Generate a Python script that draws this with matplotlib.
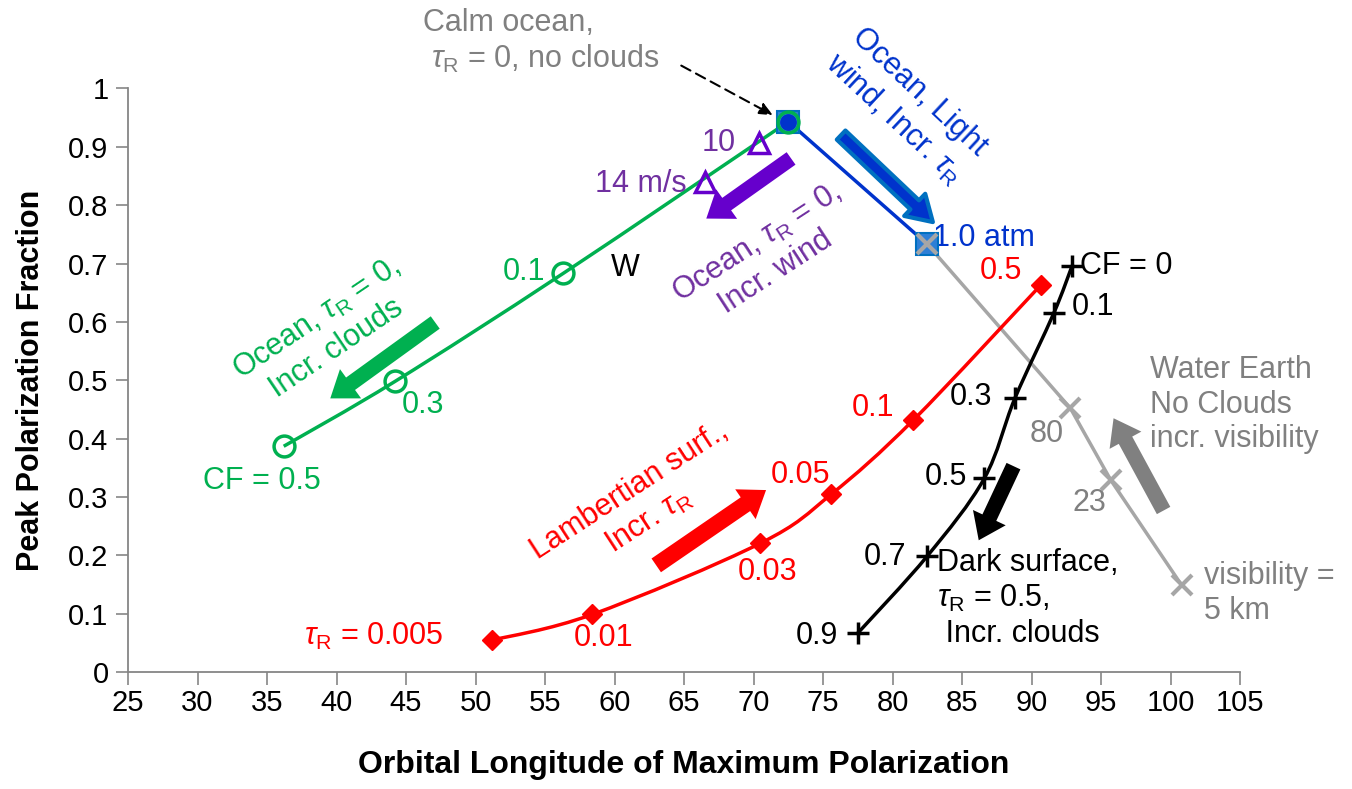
import numpy as np
import matplotlib
matplotlib.use("Agg")
import matplotlib.pyplot as plt
from matplotlib.path import Path
from matplotlib.patches import PathPatch

plt.rcParams['font.family'] = ['Liberation Sans', 'DejaVu Sans']
plt.rcParams['mathtext.fontset'] = 'custom'
plt.rcParams['mathtext.rm'] = 'Liberation Sans'
plt.rcParams['mathtext.it'] = 'Liberation Sans:italic'

TAU = r'$\tau_{\rm R}$'

# ocean, tau_R = 0, increasing clouds (CF = 0, 0.1, 0.3, 0.5)
green_x = [72.5, 56.3, 44.2, 36.2]
green_y = [0.943, 0.683, 0.498, 0.387]
green_lbl = ['', '0.1', '0.3', 'CF = 0.5']

# ocean, tau_R = 0, increasing wind
wind_x = [70.4, 66.5]
wind_y = [0.906, 0.839]
wind_lbl = ['10', '14 m/s']

# ocean, light wind, increasing tau_R
blue_x = [72.5, 82.5]
blue_y = [0.943, 0.733]

# water earth, no clouds, visibility (km)
gray_x = [82.5, 92.8, 95.7, 100.8]
gray_y = [0.733, 0.452, 0.329, 0.149]
gray_lbl = ['', '80', '23', '']

# lambertian surface, increasing tau_R
red_x = [51.2, 58.4, 70.5, 75.6, 81.5, 90.7]
red_y = [0.055, 0.099, 0.221, 0.305, 0.432, 0.664]
red_lbl = [TAU + ' = 0.005', '0.01', '0.03', '0.05', '0.1', '0.5']

# dark surface, tau_R = 0.5, increasing clouds
blk_x = [92.9, 91.6, 88.8, 86.6, 82.5, 77.5]
blk_y = [0.695, 0.615, 0.469, 0.332, 0.199, 0.067]
blk_lbl = ['CF = 0', '0.1', '0.3', '0.5', '0.7', '0.9']

GREEN = '#00b050'
PURPLE = '#7030a0'
PURPLE2 = '#6600cc'
BLUE = '#0033cc'
BLUE2 = '#0070c0'
RED = '#ff0000'
GRAYL = '#a6a6a6'
GRAYT = '#808080'


def smooth(ax, xs, ys, **kw):
    # smoothed line through the points, like the spreadsheet "smooth line" option
    sx = 1 / 80.0
    q = np.column_stack([xs, ys]).astype(float)
    q[:, 0] *= sx
    pts = [q[0]]
    codes = [Path.MOVETO]
    n = len(q)
    for i in range(n - 1):
        p0 = q[i - 1] if i > 0 else q[i]
        p1, p2 = q[i], q[i + 1]
        p3 = q[i + 2] if i + 2 < n else q[i + 1]
        pts += [p1 + (p2 - p0) / 6.0, p2 - (p3 - p1) / 6.0, p2]
        codes += [Path.CURVE4] * 3
    pts = np.array(pts)
    pts[:, 0] /= sx
    ax.add_patch(PathPatch(Path(pts, codes), fill=False, **kw))


def block_arrow(ax, tail, tip, fc, ec=None, lw=0, hw=1.3, hl=0.9, tw=0.55, ms=20):
    ax.annotate('', xy=tip, xytext=tail,
                arrowprops=dict(arrowstyle='simple,head_length=%g,head_width=%g,tail_width=%g' % (hl, hw, tw),
                                fc=fc, ec=ec if ec else fc, lw=lw, shrinkA=0, shrinkB=0,
                                mutation_scale=ms), zorder=2)


fig = plt.figure(figsize=(13.52, 7.89), dpi=100)
ax = fig.add_axes([0.0947, 0.148, 0.8225, 0.740])

FS = 22

# lines
smooth(ax, green_x, green_y, edgecolor=GREEN, lw=2.5, zorder=3)
ax.plot(blue_x, blue_y, color=BLUE, lw=2.5, zorder=3)
ax.plot(gray_x, gray_y, color=GRAYL, lw=2.5, zorder=3)
smooth(ax, red_x, red_y, edgecolor=RED, lw=2.5, zorder=3)
smooth(ax, blk_x, blk_y, edgecolor='black', lw=2.5, zorder=3)

# markers
ax.plot(blue_x, blue_y, 's', ms=16, mfc='#2e7fd6', mec=BLUE2, mew=1.5, zorder=4, ls='none')
ax.plot(blue_x[:1], blue_y[:1], 'o', ms=11, mfc=BLUE, mec=BLUE, zorder=5)
ax.plot(green_x, green_y, 'o', ms=15, mfc='none', mec=GREEN, mew=2.5, zorder=6)
ax.plot(wind_x, wind_y, '^', ms=14, mfc='none', mec=PURPLE2, mew=2.5, zorder=6)
ax.plot(gray_x, gray_y, 'x', ms=14, mec=GRAYL, mew=3, zorder=6)
ax.plot(red_x, red_y, 'D', ms=10, color=RED, zorder=6)
ax.plot(blk_x, blk_y, '+', ms=16, mec='black', mew=2.5, zorder=6)

# point labels
g_off = [(0, 0), (-2.8, 0.003), (2.0, -0.04), (-1.55, -0.06)]
for x, y, t, (dx, dy) in zip(green_x, green_y, green_lbl, g_off):
    if t:
        ax.text(x + dx, y + dy, t, color=GREEN, fontsize=FS, ha='center', va='center')
ax.text(60.8, 0.692, 'W', color='black', fontsize=FS, ha='center', va='center')
for x, y, t, dx, dy in zip(wind_x, wind_y, wind_lbl, [-2.9, -4.6], [0, -0.002]):
    ax.text(x + dx, y + dy, t, color=PURPLE, fontsize=FS, ha='center', va='center')
ax.text(82.9, 0.743, '1.0 atm', color=BLUE, fontsize=FS, ha='left', va='center')
for x, y, t, dx, dy in zip(gray_x, gray_y, gray_lbl, [0, -1.7, -1.5, 0], [0, -0.044, -0.04, 0]):
    if t:
        ax.text(x + dx, y + dy, t, color=GRAYT, fontsize=FS, ha='center', va='center')
r_off = [(-8.55, 0.007), (0.8, -0.04), (0.5, -0.05), (-2.2, 0.033), (-2.9, 0.02), (-2.9, 0.023)]
for x, y, t, (dx, dy) in zip(red_x, red_y, red_lbl, r_off):
    ax.text(x + dx, y + dy, t, color=RED, fontsize=FS, ha='center', va='center')
k_off = [(0.6, 0.0), (1.3, 0.01), (-1.6, 0.002), (-1.2, 0.002), (-1.5, -0.002), (-1.4, -0.005)]
for i, (x, y, t, (dx, dy)) in enumerate(zip(blk_x, blk_y, blk_lbl, k_off)):
    ax.text(x + dx, y + dy, t, color='black', fontsize=FS, va='center',
            ha='left' if i < 2 else 'right')

# group annotations
ax.text(39.3, 0.58, 'Ocean, ' + TAU + ' = 0,\nIncr. clouds', color=GREEN, fontsize=FS,
        rotation=34, ha='center', va='center', rotation_mode='anchor', multialignment='center')
ax.text(70.9, 0.71, 'Ocean, ' + TAU + ' = 0,\nIncr. wind', color=PURPLE, fontsize=FS,
        rotation=33, ha='center', va='center', rotation_mode='anchor', multialignment='center')
ax.text(81.0, 0.97, 'Ocean, Light\nwind, Incr. ' + TAU, color=BLUE, fontsize=FS,
        rotation=-43, ha='center', va='center', rotation_mode='anchor', multialignment='center')
ax.text(61.8, 0.285, 'Lambertian surf.,\nIncr. ' + TAU, color=RED, fontsize=FS,
        rotation=33, ha='center', va='center', rotation_mode='anchor', multialignment='center')
ax.text(83.2, 0.212, 'Dark surface,\n' + TAU + ' = 0.5,\n Incr. clouds', color='black',
        fontsize=FS, ha='left', va='top')
ax.text(98.5, 0.543, 'Water Earth\nNo Clouds\nincr. visibility', color=GRAYT,
        fontsize=FS, ha='left', va='top')
ax.text(102.4, 0.19, 'visibility =\n5 km', color=GRAYT, fontsize=FS, ha='left', va='top')
ax.text(46.2, 1.137, 'Calm ocean,\n ' + TAU + ' = 0, no clouds', color=GRAYT, fontsize=FS,
        ha='left', va='top', clip_on=False)
ax.annotate('', xy=(71.4, 0.954), xytext=(64.8, 1.039), annotation_clip=False,
            arrowprops=dict(arrowstyle='-|>,head_length=0.8,head_width=0.35', color='black',
                            lw=1.5, ls=(0, (5, 3)), shrinkA=0, shrinkB=0))

# block arrows
block_arrow(ax, (47.1, 0.599), (39.55, 0.469), GREEN)
block_arrow(ax, (72.7, 0.880), (66.6, 0.777), PURPLE2)
block_arrow(ax, (76.3, 0.920), (82.9, 0.771), BLUE, ec=BLUE2, lw=3, tw=0.45, hw=1.1)
block_arrow(ax, (63.0, 0.183), (70.9, 0.312), RED, tw=0.6)
block_arrow(ax, (88.7, 0.353), (86.2, 0.226), 'black')
block_arrow(ax, (99.5, 0.277), (95.9, 0.435), GRAYT)

ax.set_xlim(25, 105)
ax.set_ylim(0, 1)
ax.set_xticks(np.arange(25, 106, 5))
ax.set_yticks(np.arange(0, 1.01, 0.1))
ax.set_yticklabels(['0', '0.1', '0.2', '0.3', '0.4', '0.5', '0.6', '0.7', '0.8', '0.9', '1'])
for s in ['top', 'right']:
    ax.spines[s].set_visible(False)
for s in ['left', 'bottom']:
    ax.spines[s].set_color('#868686')
    ax.spines[s].set_linewidth(1.3)
ax.tick_params(direction='out', length=9, width=1.2, color='#868686', labelsize=21)
ax.tick_params(axis='y', pad=5)
ax.tick_params(axis='x', pad=3)
ax.set_xlabel('Orbital Longitude of Maximum Polarization', fontsize=23, fontweight='bold',
              labelpad=24)
ax.set_ylabel('Peak Polarization Fraction', fontsize=22, fontweight='bold', labelpad=16)

fig.savefig('out.png', dpi=100)
